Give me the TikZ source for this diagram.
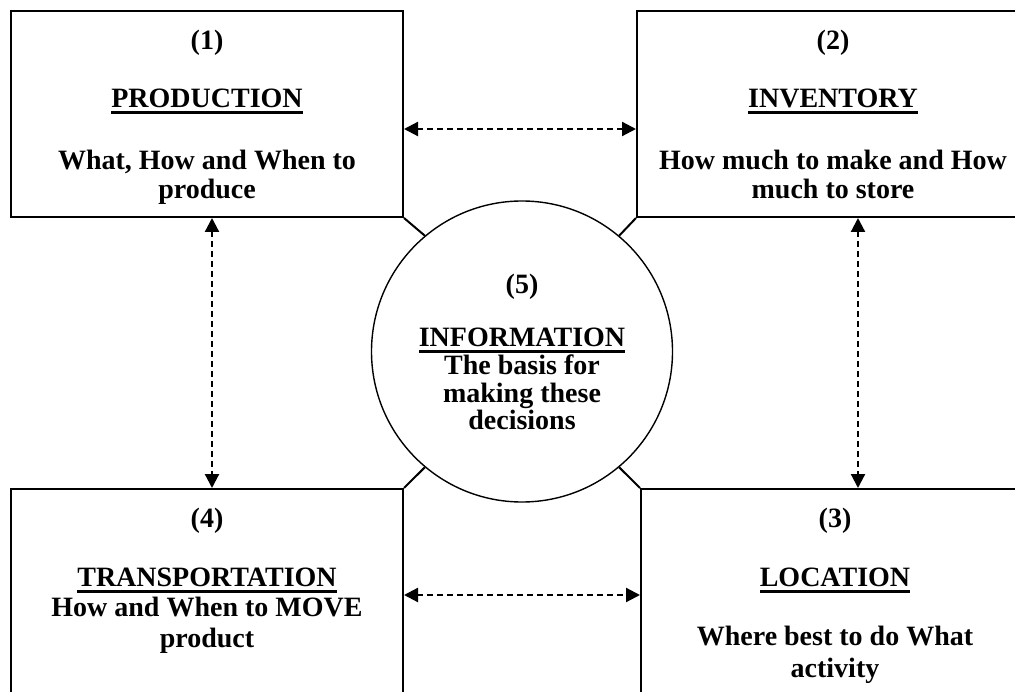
\documentclass[tikz,border=0pt]{standalone}
\usepackage{fontspec}
\setmainfont{Liberation Serif}
\usetikzlibrary{arrows.meta}
% thick underline placed a little below the baseline
\newcommand\ulword[1]{\setbox0\hbox{#1}\rlap{\vrule height -3.5pt depth 6.5pt width \wd0}\box0}
\begin{document}
\begin{tikzpicture}[x=1pt,y=-1pt,
  box/.style={draw, line width=2pt, rectangle, minimum width=392pt, minimum height=206pt, inner sep=0pt},
  hub/.style={draw, line width=1.4pt, circle, minimum size=301pt, inner sep=0pt},
  txt/.style={anchor=base, inner sep=0pt, font=\fontsize{28}{30}\selectfont\bfseries},
  link/.style={line width=2.2pt, dash pattern=on 6pt off 4pt,
    {Triangle[length=14pt,width=14pt]}-{Triangle[length=14pt,width=14pt]}},
  spoke/.style={line width=2pt}]
\useasboundingbox (0,0) rectangle (1015,692);
\begin{scope}
\clip (0,0) rectangle (1015,692);

% the four decision areas
\node[box] (b1) at (207,114) {};
\node[box] (b2) at (833,114) {};
\node[box, minimum width=390pt] (b3) at (836,592) {};
\node[box] (b4) at (207,592) {};

% the information hub
\node[hub] (c) at (522,351.5) {};

% spokes from the box corners to the hub
\draw[spoke] (b1.south east) -- (c.130);
\draw[spoke] (b2.south west) -- (c.50);
\draw[spoke] (b4.north east) -- (c.230);
\draw[spoke] (b3.north west) -- (c.310);

% two-way links between neighbouring areas
\coordinate (ya) at (0,129);
\coordinate (yb) at (0,595);
\coordinate (xl) at (212,0);
\coordinate (xr) at (858,0);
\draw[link] (b1.east |- ya) -- (b2.west |- ya);
\draw[link] (b4.east |- yb) -- (b3.west |- yb);
\draw[link] (b1.south -| xl) -- (b4.north -| xl);
\draw[link] (b2.south -| xr) -- (b3.north -| xr);

% texts of box 1
\node[txt] (t1a) at (207,50) {(1)};
\node[txt] (t1b) at (207,108) {\ulword{PRODUCTION}};
\node[txt] (t1c) at (207,170) {What, How and When to};
\node[txt] (t1d) at (207,199) {produce};

% texts of box 2
\node[txt] (t2a) at (833,50) {(2)};
\node[txt] (t2b) at (833,108) {\ulword{INVENTORY}};
\node[txt] (t2c) at (833,170) {How much to make and How};
\node[txt] (t2d) at (833,199) {much to store};

% texts of box 3
\node[txt] (t3a) at (835,527) {(3)};
\node[txt] (t3b) at (835,586) {\ulword{LOCATION}};
\node[txt] (t3c) at (835,645) {Where best to do What};
\node[txt] (t3d) at (835,677) {activity};

% texts of box 4
\node[txt] (t4a) at (207,527) {(4)};
\node[txt] (t4b) at (207,586) {\ulword{TRANSPORTATION}};
\node[txt] (t4c) at (207,616) {How and When to MOVE};
\node[txt] (t4d) at (207,647) {product};

% texts of the hub
\node[txt] (t5a) at (522,294) {(5)};
\node[txt] (t5b) at (522,347) {\ulword{INFORMATION}};
\node[txt] (t5c) at (522,375) {The basis for};
\node[txt] (t5d) at (522,403) {making these};
\node[txt] (t5e) at (522,430) {decisions};
\end{scope}
\end{tikzpicture}
\end{document}
